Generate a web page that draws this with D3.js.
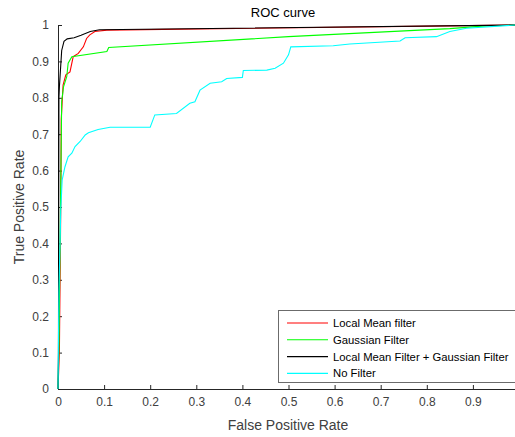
<!DOCTYPE html>
<html>
<head>
<meta charset="utf-8">
<script src="https://cdn.jsdelivr.net/npm/d3@7"></script>
<style>
  body { margin: 0; background: #fff; }
  svg { display: block; font-family: "Liberation Sans", Arial, sans-serif; }
</style>
</head>
<body>
<div id="chart"></div>
<script>
// ROC curves
var localMeanFpr = [0, 0.003, 0.006, 0.007, 0.011, 0.017, 0.026, 0.033, 0.044, 0.055, 0.062, 0.069, 0.08, 0.106, 1];
var localMeanTpr = [0, 0.1, 0.5, 0.74, 0.835, 0.863, 0.871, 0.913, 0.922, 0.94, 0.963, 0.973, 0.982, 0.986, 1];

var gaussFpr = [0, 0.002, 0.008, 0.012, 0.019, 0.022, 0.03, 0.106, 0.11, 0.5, 0.85, 0.92, 1];
var gaussTpr = [0, 0.12, 0.79, 0.83, 0.858, 0.895, 0.913, 0.927, 0.938, 0.968, 0.99, 0.997, 1];

var bothFpr = [0, 0.001, 0.002, 0.003, 0.008, 0.013, 0.02, 0.035, 0.05, 0.07, 0.09, 1];
var bothTpr = [0, 0.1, 0.8, 0.83, 0.93, 0.955, 0.962, 0.965, 0.972, 0.982, 0.987, 1];

var noFilterFpr = [0, 0.002, 0.006, 0.009, 0.015, 0.022, 0.03, 0.037, 0.048, 0.059, 0.066, 0.087, 0.113, 0.2, 0.21, 0.257, 0.286, 0.297, 0.308, 0.33, 0.355, 0.366, 0.4, 0.402, 0.453, 0.471, 0.489, 0.5, 0.505, 0.597, 0.633, 0.742, 0.753, 0.821, 0.85, 0.886, 0.991, 1];
var noFilterTpr = [0, 0.27, 0.49, 0.574, 0.61, 0.638, 0.648, 0.666, 0.68, 0.698, 0.704, 0.713, 0.719, 0.719, 0.753, 0.757, 0.785, 0.789, 0.821, 0.84, 0.844, 0.853, 0.856, 0.875, 0.876, 0.881, 0.895, 0.918, 0.94, 0.943, 0.948, 0.956, 0.965, 0.968, 0.982, 0.991, 1, 1];

var seriesNames = ["Local Mean filter", "Gaussian Filter", "Local Mean Filter + Gaussian Filter", "No Filter"];
var seriesColors = ["#ff0000", "#00ff00", "#000000", "#00ffff"];

// the "1" on x falls outside the picture, so only 0..0.9 are labelled
var xTicks = [0, 0.1, 0.2, 0.3, 0.4, 0.5, 0.6, 0.7, 0.8, 0.9];
var yTicks = [0, 0.1, 0.2, 0.3, 0.4, 0.5, 0.6, 0.7, 0.8, 0.9, 1];

var svgWidth = 515, svgHeight = 437;
var margin = { top: 25, left: 58, bottom: 48 };
var chartWidth = 461;
var chartHeight = svgHeight - margin.top - margin.bottom;

var svg = d3.select("#chart").append("svg")
  .attr("width", svgWidth)
  .attr("height", svgHeight);

var chartGroup = svg.append("g")
  .attr("transform", `translate(${margin.left}, ${margin.top})`);

var xScale = d3.scaleLinear().domain([0, 1]).range([0, chartWidth]);
var yScale = d3.scaleLinear().domain([0, 1]).range([chartHeight, 0]);

var axisColor = "#262626";
var textColor = "#404040";

// axes, ticks inside like matlab
var xAxis = d3.axisBottom(xScale).tickValues(xTicks).tickSizeInner(-4).tickSizeOuter(0)
  .tickPadding(8).tickFormat(d => String(d));
var yAxis = d3.axisLeft(yScale).tickValues(yTicks).tickSizeInner(-4).tickSizeOuter(0)
  .tickPadding(8).tickFormat(d => String(d));

var gx = chartGroup.append("g")
  .attr("transform", `translate(0, ${chartHeight})`)
  .call(xAxis);
var gy = chartGroup.append("g").call(yAxis);

[gx, gy].forEach(g => {
  g.select(".domain").attr("stroke", axisColor);
  g.selectAll(".tick line").attr("stroke", axisColor);
  g.selectAll(".tick text").attr("fill", textColor).attr("font-size", "12px")
    .attr("font-family", "Liberation Sans, Arial, sans-serif");
});
gy.selectAll(".tick text").attr("dx", "-1");

// curves
var allFpr = [localMeanFpr, gaussFpr, bothFpr, noFilterFpr];
var allTpr = [localMeanTpr, gaussTpr, bothTpr, noFilterTpr];

var line = d3.line()
  .x(d => xScale(d[0]))
  .y(d => yScale(d[1]));

allFpr.forEach((fpr, i) => {
  var pts = fpr.map((f, j) => [f, allTpr[i][j]]);
  chartGroup.append("path")
    .datum(pts)
    .attr("d", line)
    .attr("fill", "none")
    .attr("stroke", seriesColors[i])
    .attr("stroke-width", 1.1);
});

// title and axis labels
svg.append("text")
  .attr("x", 283).attr("y", 17)
  .attr("text-anchor", "middle")
  .attr("font-size", "13px")
  .attr("fill", "#000")
  .text("ROC curve");

svg.append("text")
  .attr("x", 288).attr("y", 430)
  .attr("text-anchor", "middle")
  .attr("font-size", "14px")
  .attr("fill", textColor)
  .text("False Positive Rate");

svg.append("text")
  .attr("transform", `translate(24, ${margin.top + chartHeight / 2}) rotate(-90)`)
  .attr("text-anchor", "middle")
  .attr("font-size", "14px")
  .attr("fill", textColor)
  .text("True Positive Rate");

// legend
var legend = svg.append("g").attr("transform", "translate(278, 310)");
legend.append("rect")
  .attr("x", 0.5).attr("y", 0.5)
  .attr("width", 245).attr("height", 72)
  .attr("fill", "#fff")
  .attr("stroke", "#6b6b6b");

seriesNames.forEach((name, i) => {
  var yy = 13 + i * 16.8;
  legend.append("line")
    .attr("x1", 9).attr("x2", 50)
    .attr("y1", yy).attr("y2", yy)
    .attr("stroke", seriesColors[i])
    .attr("stroke-width", 1.1);
  legend.append("text")
    .attr("x", 55).attr("y", yy + 4)
    .attr("font-size", "11.3px")
    .attr("fill", "#000")
    .text(name);
});
</script>
</body>
</html>
